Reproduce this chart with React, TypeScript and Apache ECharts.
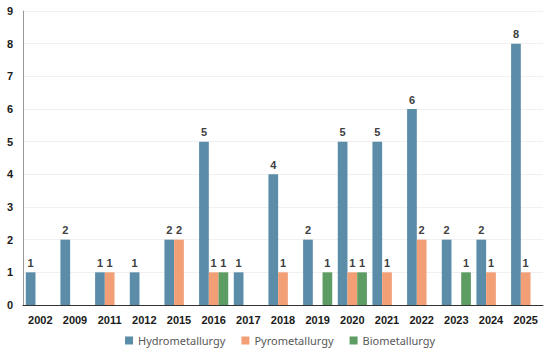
import React, { useEffect, useRef } from "react";
import * as echarts from "echarts";

const years = ["2002", "2009", "2011", "2012", "2015", "2016", "2017", "2018", "2019", "2020", "2021", "2022", "2023", "2024", "2025"];
const hydro = [1, 2, 1, 1, 2, 5, 1, 4, 2, 5, 5, 6, 2, 2, 8];
const pyro = [null, null, 1, null, 2, 1, null, 1, null, 1, 1, 2, null, 1, 1];
const bio = [null, null, null, null, null, 1, null, null, 1, 1, null, null, 1, null, null];
const seriesNames = ["Hydrometallurgy", "Pyrometallurgy", "Biometallurgy"];
const colors = ["#5b8da9", "#f39f76", "#5d9d63"];

export default function App() {
  const ref = useRef<HTMLDivElement>(null);
  useEffect(() => {
    document.body.style.margin = "0";
    const chart = echarts.init(ref.current!, null, { renderer: "svg" });
    const label = {
      show: true,
      position: "top",
      distance: 4,
      color: "#404040",
      fontWeight: "bold",
      fontSize: 11,
      fontFamily: "Liberation Sans",
    };
    const datas = [hydro, pyro, bio];
    chart.setOption({
      animation: false,
      color: colors,
      grid: { left: 23, right: 7, top: 11, bottom: 50 },
      legend: {
        bottom: 4,
        left: 120,
        itemWidth: 8,
        itemHeight: 8,
        itemGap: 16,
        icon: "rect",
        textStyle: { color: "#595959", fontSize: 11, fontFamily: "Noto Sans" },
        data: seriesNames,
      },
      xAxis: {
        type: "category",
        data: years,
        axisLine: { lineStyle: { color: "#333", width: 1 } },
        axisTick: { show: false },
        axisLabel: { interval: 0, color: "#1a1a1a", fontWeight: "bold", fontSize: 11, fontFamily: "Liberation Sans", margin: 9 },
      },
      yAxis: {
        type: "value",
        min: 0,
        max: 9,
        interval: 1,
        axisLine: { show: true, lineStyle: { color: "#999" } },
        axisLabel: { color: "#1a1a1a", fontWeight: "bold", fontSize: 11, fontFamily: "Liberation Sans", margin: 10 },
        splitLine: { lineStyle: { color: "#f0f0f0" } },
      },
      series: seriesNames.map((n, i) => ({
        name: n,
        type: "bar",
        data: datas[i],
        barGap: "0%",
        barCategoryGap: "16%",
        label,
        itemStyle: { color: colors[i] },
      })),
    });
    return () => chart.dispose();
  }, []);
  return <div ref={ref} style={{ width: 550, height: 355 }} />;
}
